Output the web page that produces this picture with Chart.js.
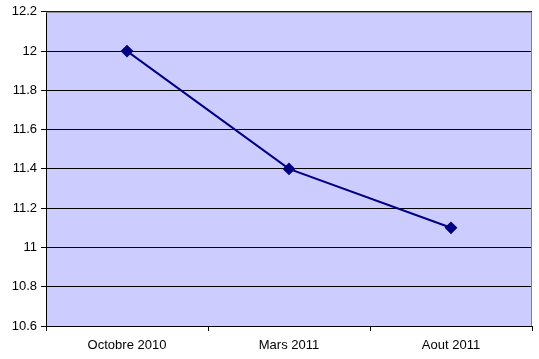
<!DOCTYPE html>
<html>
<head>
<meta charset="utf-8">
<script src="https://cdn.jsdelivr.net/npm/chart.js@4/dist/chart.umd.min.js"></script>
<style>
  html, body { margin: 0; padding: 0; background: #fff; }
  #wrap { width: 539px; height: 359px; }
</style>
</head>
<body>
<div id="wrap"><canvas id="chart"></canvas></div>
<script>
const categories = ['Octobre 2010', 'Mars 2011', 'Aout 2011']
const values = [12, 11.4, 11.1]
const yMin = 10.6
const yMax = 12.2
const yStep = 0.2

// lavender plot area with grey top/right frame, like the old Excel look
const plotFrame = {
  id: 'plotFrame',
  beforeDraw (chart) {
    const { ctx, chartArea: a } = chart
    ctx.save()
    ctx.fillStyle = '#ccccff'
    ctx.fillRect(a.left, a.top, a.right - a.left, a.bottom - a.top)
    ctx.restore()
  },
  afterDraw (chart) {
    const { ctx, chartArea: a } = chart
    ctx.save()
    ctx.strokeStyle = '#808080'
    ctx.lineWidth = 1
    ctx.beginPath()
    ctx.moveTo(a.left, a.top + 0.5)
    ctx.lineTo(a.right - 0.5, a.top + 0.5)
    ctx.lineTo(a.right - 0.5, a.bottom)
    ctx.stroke()
    ctx.restore()
  }
}

Chart.defaults.font.family = "'Liberation Sans', Arial, sans-serif"
Chart.defaults.font.size = 13
Chart.defaults.color = '#000'

new Chart(document.getElementById('chart').getContext('2d'), {
  type: 'line',
  data: {
    labels: categories,
    datasets: [{
      data: values,
      borderColor: '#000080',
      backgroundColor: '#000080',
      borderWidth: 2,
      pointStyle: 'rectRot',
      pointRadius: 5,
      pointHoverRadius: 5,
      tension: 0
    }]
  },
  options: {
    responsive: true,
    maintainAspectRatio: false,
    animation: false,
    events: [],
    layout: { padding: { top: 11, right: 7, left: 0, bottom: 0 } },
    plugins: {
      legend: { display: false },
      tooltip: { enabled: false }
    },
    scales: {
      x: {
        offset: true,
        grid: {
          offset: true,
          drawOnChartArea: false,
          drawTicks: true,
          tickLength: 5,
          color: '#000'
        },
        border: { color: '#000', width: 1 },
        ticks: { padding: 7, maxRotation: 0 },
        afterFit (scale) { scale.height = 33 }
      },
      y: {
        min: yMin,
        max: yMax,
        grid: {
          color: '#000',
          tickLength: 5,
          drawTicks: true
        },
        border: { color: '#000', width: 1 },
        ticks: {
          stepSize: yStep,
          padding: 4,
          callback: v => Number(v.toFixed(1)).toString()
        },
        afterFit (scale) { scale.width = 46 }
      }
    }
  },
  plugins: [plotFrame]
})
</script>
</body>
</html>
